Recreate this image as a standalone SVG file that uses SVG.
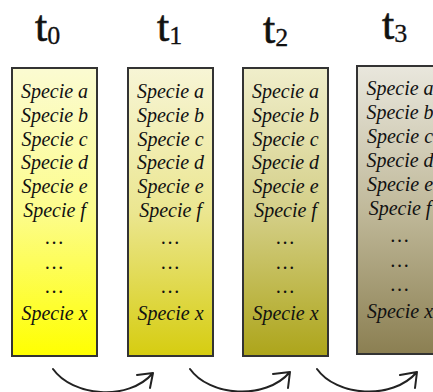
<svg xmlns="http://www.w3.org/2000/svg" width="433" height="392" viewBox="0 0 433 392">
<style>
.title{font-family:'Liberation Serif','DejaVu Serif',serif;font-size:44px;fill:#111;stroke:#111;stroke-width:0.6}
.sub{font-size:26px;stroke-width:0.3}
.sp{font-family:'Liberation Serif','DejaVu Serif',serif;font-style:italic;font-size:20px;fill:#111;text-anchor:middle}
.box{stroke:#333;stroke-width:2}
.arc{fill:none;stroke:#222;stroke-width:2;stroke-linecap:round;stroke-linejoin:round}
</style>
<defs>
<linearGradient id="g0" x1="0" y1="0" x2="0" y2="1"><stop offset="0" stop-color="#fbfbd2"/><stop offset="0.5" stop-color="#fcfc8c"/><stop offset="1" stop-color="#ffff00"/></linearGradient>
<linearGradient id="g1" x1="0" y1="0" x2="0" y2="1"><stop offset="0" stop-color="#f7f5d6"/><stop offset="0.5" stop-color="#ebe690"/><stop offset="1" stop-color="#d6cd10"/></linearGradient>
<linearGradient id="g2" x1="0" y1="0" x2="0" y2="1"><stop offset="0" stop-color="#f0eecb"/><stop offset="0.5" stop-color="#d4cf88"/><stop offset="1" stop-color="#ada51a"/></linearGradient>
<linearGradient id="g3" x1="0" y1="0" x2="0" y2="1"><stop offset="0" stop-color="#e9e7dd"/><stop offset="0.5" stop-color="#c0b99a"/><stop offset="1" stop-color="#8b7f52"/></linearGradient>
</defs>
<g id="title-t0"><text class="title" x="35" y="41">t<tspan class="sub" y="44">0</tspan></text></g>
<g id="title-t1"><text class="title" x="157" y="41">t<tspan class="sub" y="44">1</tspan></text></g>
<g id="title-t2"><text class="title" x="263" y="43">t<tspan class="sub" y="46">2</tspan></text></g>
<g id="title-t3"><text class="title" x="382" y="39">t<tspan class="sub" y="42">3</tspan></text></g>
<g id="box-t0">
<rect class="box" x="12" y="68" width="85" height="288" fill="url(#g0)"/>
<text class="sp" x="54.5" y="98">Specie a</text><text class="sp" x="54.5" y="122">Specie b</text><text class="sp" x="54.5" y="146">Specie c</text><text class="sp" x="54.5" y="169">Specie d</text><text class="sp" x="54.5" y="193">Specie e</text><text class="sp" x="54.5" y="217">Specie f</text>
<text class="sp" x="54.5" y="244">…</text><text class="sp" x="54.5" y="269">…</text><text class="sp" x="54.5" y="293">…</text><text class="sp" x="54.5" y="320">Specie x</text>
</g>
<g id="box-t1">
<rect class="box" x="128" y="68" width="85" height="288" fill="url(#g1)"/>
<text class="sp" x="170.5" y="98">Specie a</text><text class="sp" x="170.5" y="122">Specie b</text><text class="sp" x="170.5" y="146">Specie c</text><text class="sp" x="170.5" y="169">Specie d</text><text class="sp" x="170.5" y="193">Specie e</text><text class="sp" x="170.5" y="217">Specie f</text>
<text class="sp" x="170.5" y="244">…</text><text class="sp" x="170.5" y="269">…</text><text class="sp" x="170.5" y="293">…</text><text class="sp" x="170.5" y="320">Specie x</text>
</g>
<g id="box-t2">
<rect class="box" x="243" y="68" width="85" height="288" fill="url(#g2)"/>
<text class="sp" x="285.5" y="98">Specie a</text><text class="sp" x="285.5" y="122">Specie b</text><text class="sp" x="285.5" y="146">Specie c</text><text class="sp" x="285.5" y="169">Specie d</text><text class="sp" x="285.5" y="193">Specie e</text><text class="sp" x="285.5" y="217">Specie f</text>
<text class="sp" x="285.5" y="244">…</text><text class="sp" x="285.5" y="269">…</text><text class="sp" x="285.5" y="293">…</text><text class="sp" x="285.5" y="320">Specie x</text>
</g>
<g id="box-t3">
<rect class="box" x="357" y="66" width="85" height="288" fill="url(#g3)"/>
<text class="sp" x="400" y="95">Specie a</text><text class="sp" x="400" y="119">Specie b</text><text class="sp" x="400" y="143">Specie c</text><text class="sp" x="400" y="167">Specie d</text><text class="sp" x="400" y="191">Specie e</text><text class="sp" x="400" y="215">Specie f</text>
<text class="sp" x="400" y="242">…</text><text class="sp" x="400" y="267">…</text><text class="sp" x="400" y="291">…</text><text class="sp" x="400" y="318">Specie x</text>
</g>
<g id="connectors">
<path class="arc" d="M53,369 C72,396 128,402 153,373 M137,375 L153,373 L150,388"/>
<path class="arc" d="M190,369 C209,396 265,401 290,372 M273,374 L290,372 L288,388"/>
<path class="arc" d="M317,369 C336,396 392,401 417,372 M400,375 L417,372 L415,388"/>
</g>
</svg>
